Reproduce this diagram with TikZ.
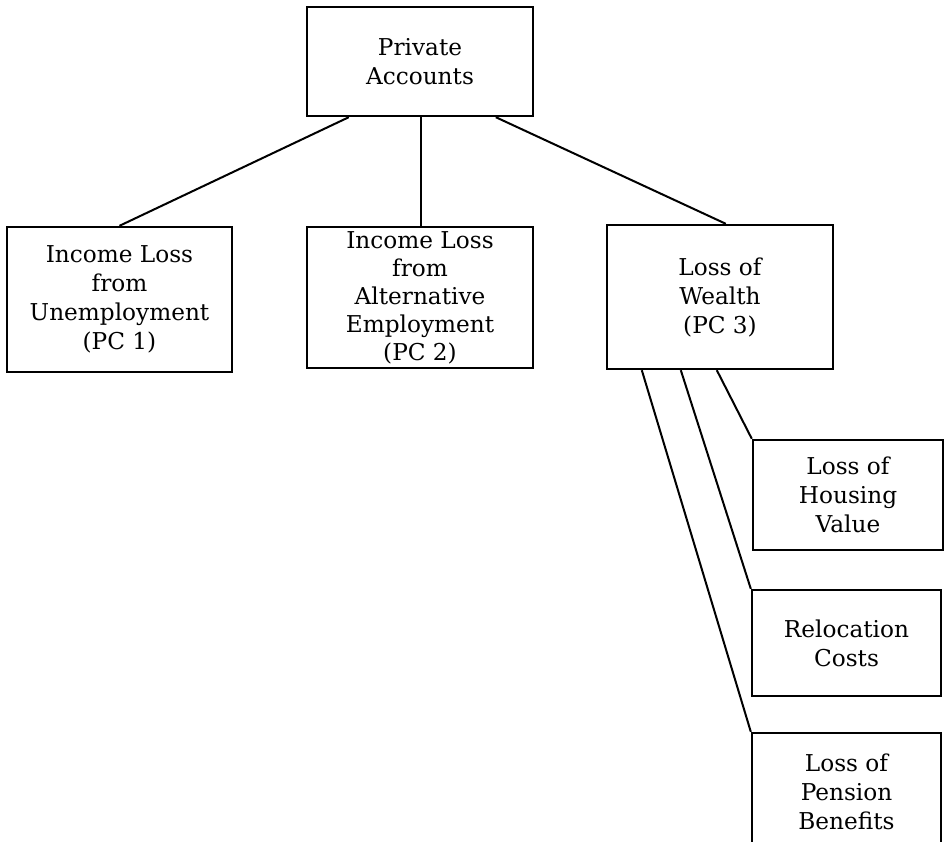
\documentclass[tikz,border=0pt]{standalone}
\usepackage{fontspec}
\setmainfont{DejaVu Serif}
\usetikzlibrary{calc}
\begin{document}
\begin{tikzpicture}[x=0.5pt,y=-0.5pt,
  box/.style={draw,line width=1.2pt,inner sep=0pt,align=center,
    font=\fontsize{11.6}{14.5}\selectfont},
  link/.style={line width=1pt}]
\useasboundingbox (0,0) rectangle (945,841);
\clip (0,0) rectangle (945,841);
\node[box,minimum width=113pt,minimum height=54.5pt] (pa) at (420,61.5) {Private\\Accounts};
\node[box,minimum width=112.5pt,minimum height=72.5pt] (pc1) at (119.5,299.5) {Income Loss\\from\\Unemployment\\(PC 1)};
\node[box,minimum width=113pt,minimum height=70.5pt,font=\fontsize{11.6}{14}\selectfont] (pc2) at (420,297.5) {Income Loss\\from\\Alternative\\Employment\\(PC 2)};
\node[box,minimum width=113pt,minimum height=72pt] (pc3) at (720,297) {Loss of\\Wealth\\(PC 3)};
\node[box,minimum width=95pt,minimum height=55pt] (hv) at (848,495) {Loss of\\Housing\\Value};
\node[box,minimum width=94.5pt,minimum height=53pt] (rc) at (846.5,643) {Relocation\\Costs};
\node[box,minimum width=94.5pt,minimum height=58.5pt] (pb) at (846.5,791.5) {Loss of\\Pension\\Benefits};
\draw[link] ($(pa.south west)+(43,0)$) -- (pc1.north);
\draw[link] ($(pa.south west)+(115,0)$) -- ($(pc2.north west)+(115,0)$);
\draw[link] ($(pa.south west)+(190,0)$) -- ($(pc3.north west)+(120,0)$);
\draw[link] ($(pc3.south west)+(111,0)$) -- (hv.north west);
\draw[link] ($(pc3.south west)+(75,0)$) -- (rc.north west);
\draw[link] ($(pc3.south west)+(36,0)$) -- (pb.north west);
\end{tikzpicture}
\end{document}
